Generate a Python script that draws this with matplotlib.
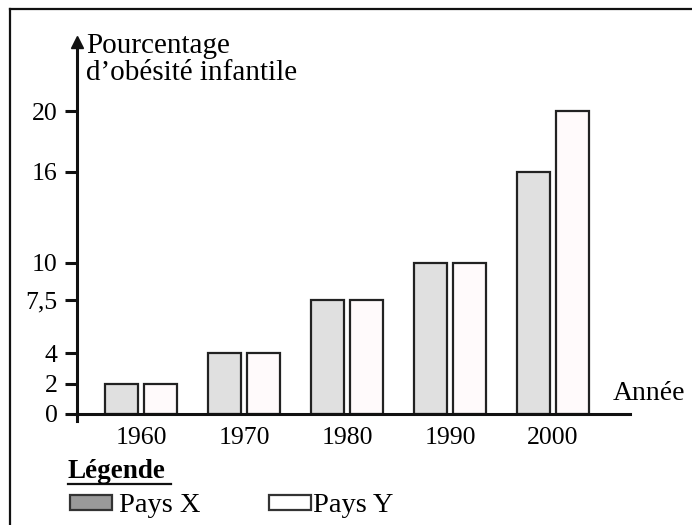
import matplotlib
matplotlib.use("Agg")
import matplotlib.pyplot as plt
import numpy as np
from matplotlib.lines import Line2D
from matplotlib.patches import Rectangle

# data
years = ["1960", "1970", "1980", "1990", "2000"]
pays_x = [2, 4, 7.5, 10, 16]
pays_y = [2, 4, 7.5, 10, 20]
y_ticks = [0, 2, 4, 7.5, 10, 16, 20]
y_tick_labels = ["0", "2", "4", "7,5", "10", "16", "20"]

plt.rcParams["font.family"] = ["Liberation Serif", "DejaVu Serif"]

W, H = 692, 525
fig = plt.figure(figsize=(W / 100, H / 100), dpi=100)


def fx(px):
    return px / W


def fy(py):
    return 1 - py / H


# axes placed in pixels: y axis at x=77, x axis at y=414
ax_left, ax_right, ax_bottom, ax_top = 77, 630, 414, 42
ax = fig.add_axes([fx(ax_left), fy(ax_bottom), fx(ax_right - ax_left), (ax_bottom - ax_top) / H])

px_per_group = 103.0
px_per_unit = 15.15
ax.set_xlim((ax_left - 141) / px_per_group, (ax_right - 141) / px_per_group)
ax.set_ylim(0, (ax_bottom - ax_top) / px_per_unit)

x = np.arange(len(years))
bar_w = 33 / px_per_group
off = 19.5 / px_per_group
edge = "#222222"
ax.bar(x - off, pays_x, width=bar_w, color="#e0e0e0", edgecolor=edge, linewidth=1.6)
ax.bar(x + off, pays_y, width=bar_w, color="#fffafb", edgecolor=edge, linewidth=1.6)

for side in ["top", "right"]:
    ax.spines[side].set_visible(False)
for side in ["left", "bottom"]:
    ax.spines[side].set_linewidth(2.2)
    ax.spines[side].set_color("#111111")

ax.set_yticks(y_ticks)
ax.set_yticklabels(y_tick_labels, fontsize=18.5)
ax.tick_params(axis="y", length=9, width=2.2, color="#111111", pad=5)
ax.set_xticks(x)
ax.set_xticklabels(years, fontsize=18.5)
ax.tick_params(axis="x", length=0, pad=9)

# arrow head on the y axis
ax.plot(0, 1, marker="^", color="#111111", markersize=8, transform=ax.transAxes, clip_on=False)
# small tick below the origin
fig.add_artist(Line2D([fx(77), fx(77)], [fy(414), fy(421)], color="#111111", lw=2.2))

fig.text(fx(86), fy(53), "Pourcentage", fontsize=21, va="baseline", ha="left")
fig.text(fx(86), fy(80), "d\u2019obésité infantile", fontsize=21, va="baseline", ha="left")
fig.text(fx(613), fy(400), "Année", fontsize=20, va="baseline", ha="left")

# outer frame (left and top edges visible)
fig.add_artist(Line2D([fx(10), fx(10)], [fy(9), 0], color="#111111", lw=1.6))
fig.add_artist(Line2D([fx(10), 1], [fy(9), fy(9)], color="#111111", lw=1.6))

# legend
fig.text(fx(68), fy(478), "Légende", fontsize=19.5, fontweight="bold", va="baseline", ha="left")
fig.add_artist(Line2D([fx(68), fx(171)], [fy(484), fy(484)], color="#111111", lw=1.6))
fig.add_artist(Rectangle((fx(70), fy(510)), fx(42), 15 / H, facecolor="#9a9a9a", edgecolor="#333333", lw=1.6))
fig.text(fx(119), fy(512), "Pays X", fontsize=20.5, va="baseline", ha="left")
fig.add_artist(Rectangle((fx(269), fy(510)), fx(42), 15 / H, facecolor="white", edgecolor="#333333", lw=1.6))
fig.text(fx(313), fy(512), "Pays Y", fontsize=20.5, va="baseline", ha="left")

fig.savefig("out.png", dpi=100)
